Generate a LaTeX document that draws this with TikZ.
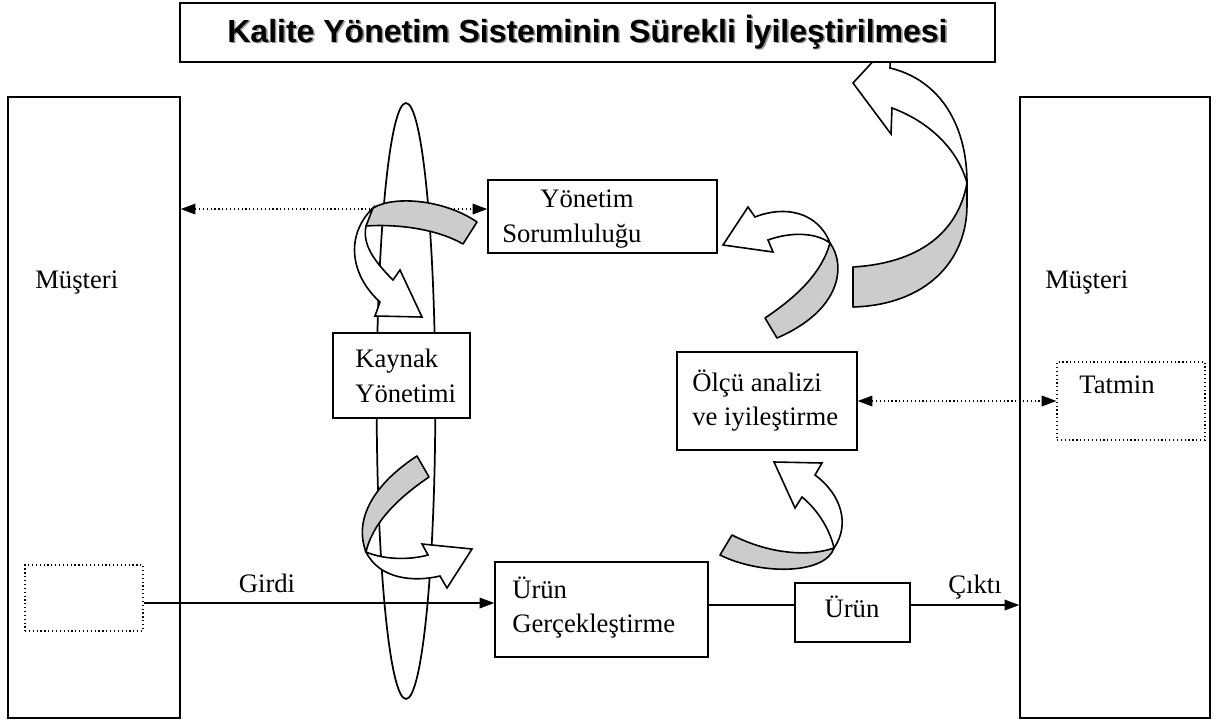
\documentclass[tikz,border=0pt]{standalone}
\usepackage{fontspec}
\setmainfont{Liberation Serif}
\setsansfont{Liberation Sans}
\usetikzlibrary{arrows.meta,shapes.geometric}
\newcommand\mytitletext{Kalite Yönetim Sisteminin Sürekli İyileştirilmesi}
\begin{document}
\begin{tikzpicture}[x=0.75pt,y=-0.75pt,
  every node/.style={font=\fontsize{20}{26}\selectfont},
  box/.style={draw, line width=1.1pt, fill=white, inner sep=0},
  dotbox/.style={draw, dotted, line width=0.9pt, inner sep=0},
  txt/.style={inner sep=0, align=left, anchor=west},
  plain/.style={inner sep=0},
  solidarrow/.style={line width=0.9pt, -{Triangle[length=11pt,width=8pt]}},
  plainline/.style={line width=0.9pt},
  dotarrow/.style={dotted, line width=0.9pt, {Triangle[length=11pt,width=8pt]}-{Triangle[length=11pt,width=8pt]}},
  ribbongray/.style={draw, line width=1.2pt, fill=gray!40, line join=round},
  ribbonwhite/.style={draw, line width=1.2pt, fill=white, line join=miter}
]
\useasboundingbox (0,0) rectangle (1217,724);

% ellipse
\node[draw, ellipse, line width=1.3pt, inner sep=0, minimum width=44pt, minimum height=447pt] (ell) at (406,401) {};

% boxes
\node[box, minimum width=129pt, minimum height=465.75pt] (lm) at (94,407.5) {};
\node[box, minimum width=142.5pt, minimum height=465.75pt] (rm) at (1115,407.5) {};
\node[box, minimum width=171.75pt, minimum height=54.75pt] (yon) at (602.5,216.5) {};
\node[box, minimum width=102.75pt, minimum height=63.75pt] (kay) at (401.5,375.5) {};
\node[box, minimum width=135pt, minimum height=73.5pt] (olc) at (767,401) {};
\node[dotbox, minimum width=111pt, minimum height=58.5pt] (tat) at (1131,401) {};
\node[dotbox, minimum width=88.5pt, minimum height=49.5pt] (sb) at (84,598) {};
\node[box, minimum width=159.75pt, minimum height=71.25pt] (ug) at (601.5,609.5) {};
\node[box, minimum width=86.25pt, minimum height=44.25pt] (ur) at (852.5,612.5) {};

% texts
\node[txt] (lmT) at (35,283) {Müşteri};
\node[txt] (rmT) at (1045,283) {Müşteri};
\node[txt] (yonT) at (502,219) {\hspace*{28.5pt}Yönetim\\Sorumluluğu};
\node[txt] (kayT) at (355,376) {Kaynak\\Yönetimi};
\node[txt] (olcT) at (692,400.5) {Ölçü analizi\\ve iyileştirme};
\node[txt] (ugT) at (512,607.5) {Ürün\\Gerçekleştirme};
\node[plain] (urT) at (852,607) {Ürün};
\node[plain] (tatT) at (1117,385) {Tatmin};
\node[plain] (girdi) at (267,583) {Girdi};
\node[plain] (cikti) at (975,587) {Çıktı};

% connectors
\coordinate (yl) at ([yshift=5.6pt]yon.west);
\draw[dotarrow] (yl -| lm.east) -- (yl);
\draw[dotarrow] (olc.east) -- (tat.west);
\coordinate (gs) at ([yshift=-3.75pt]sb.east);
\draw[solidarrow] (gs) -- (gs -| ug.west);
\coordinate (us) at ([yshift=5.6pt]ur.west);
\draw[plainline] (us -| ug.east) -- (us);
\draw[solidarrow] (us -| ur.east) -- (us -| rm.west);

% ribbon A1 (big, top right)
\draw[ribbongray] (853,267) -- (853,307) .. controls (925,305) and (967,262) .. (967,205) -- (967,183) .. controls (958,232) and (920,263) .. (853,267) -- cycle;
\draw[ribbonwhite] (967,183) .. controls (967,125) and (940,80) .. (890,68) -- (891,42) -- (853,83) -- (891,134) -- (892,108) .. controls (930,122) and (958,150) .. (967,183) -- cycle;

% ribbon A2 (near Yonetim, left)
\draw[ribbongray] (477,222) .. controls (445,200) and (395,195) .. (373,208) .. controls (368,212) and (365,220) .. (366,226) .. controls (395,224) and (435,228) .. (463,244) -- cycle;
\draw[ribbonwhite] (373,208) .. controls (345,235) and (350,275) .. (380,302) -- (375,316) -- (422,317) -- (400,270) -- (393,280) .. controls (375,262) and (362,245) .. (366,226) -- cycle;

% ribbon A3 (below Kaynak)
\draw[ribbongray] (417,456) -- (429,477) .. controls (395,500) and (372,525) .. (366,552) .. controls (352,515) and (380,480) .. (417,456) -- cycle;
\draw[ribbonwhite] (366,552) .. controls (380,580) and (415,582) .. (440,576) -- (447,588) -- (472,549) -- (422,544) -- (428,555) .. controls (410,560) and (385,560) .. (366,552) -- cycle;

% ribbon A4 (right of Yonetim)
\draw[ribbongray] (765,318) .. controls (798,296) and (822,272) .. (830,243) .. controls (846,265) and (842,310) .. (777,338) -- cycle;
\draw[ribbonwhite] (830,243) .. controls (818,212) and (785,205) .. (755,217) -- (748,207) -- (723,245) -- (773,252) -- (768,240) .. controls (790,232) and (815,232) .. (830,243) -- cycle;

% ribbon A5 (below Olcu)
\draw[ribbongray] (732,535) .. controls (765,552) and (805,558) .. (834,548) .. controls (825,575) and (760,575) .. (720,555) -- cycle;
\draw[ribbonwhite] (834,548) .. controls (850,525) and (842,495) .. (815,475) -- (822,463) -- (774,462) -- (795,508) -- (802,497) .. controls (818,510) and (830,530) .. (834,548) -- cycle;

% title
\node[box, minimum width=611.25pt, minimum height=44.25pt, font=\sffamily\bfseries\fontsize{24}{28}\selectfont] (title) at (587.5,32.5)
  {\rlap{\hspace{1.2pt}\raisebox{-1.2pt}{\textcolor{gray!80}{\mytitletext}}}\mytitletext};
\end{tikzpicture}
\end{document}
